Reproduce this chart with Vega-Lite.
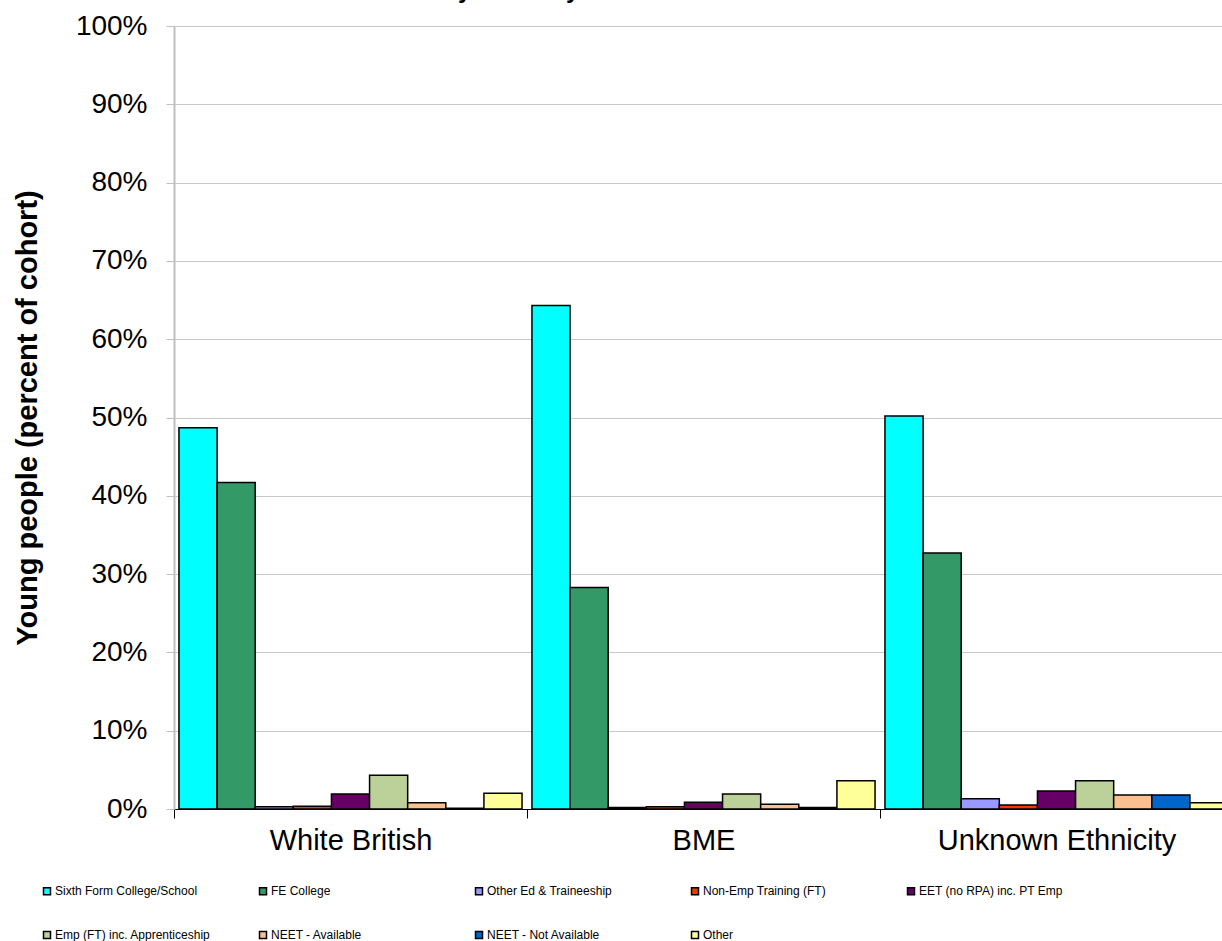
{
  "$schema": "https://vega.github.io/schema/vega-lite/v6.json",
  "width": 1059,
  "height": 783,
  "autosize": {"type": "none"},
  "padding": {"left": 174, "top": 26, "right": 0, "bottom": 132},
  "background": "white",
  "config": {"font": "Liberation Sans", "view": {"stroke": null}},
  "title": {"text": "Destinations of Year 11 leavers by Ethnicity in 2013", "anchor": "start", "fontSize": 24, "font": "Liberation Sans", "fontWeight": "bold", "color": "black", "baseline": "alphabetic", "frame": "group", "offset": 0, "dx": -89, "dy": 10},
  "data": {"values": [
    {"ethnicity": "White British", "destination": "Sixth Form College/School", "percent": 48.7},
    {"ethnicity": "White British", "destination": "FE College", "percent": 41.7},
    {"ethnicity": "White British", "destination": "Other Ed & Traineeship", "percent": 0.3},
    {"ethnicity": "White British", "destination": "Non-Emp Training (FT)", "percent": 0.35},
    {"ethnicity": "White British", "destination": "EET (no RPA) inc. PT Emp", "percent": 1.9},
    {"ethnicity": "White British", "destination": "Emp (FT) inc. Apprenticeship", "percent": 4.3},
    {"ethnicity": "White British", "destination": "NEET - Available", "percent": 0.8},
    {"ethnicity": "White British", "destination": "NEET - Not Available", "percent": 0.1},
    {"ethnicity": "White British", "destination": "Other", "percent": 2.0},
    {"ethnicity": "BME", "destination": "Sixth Form College/School", "percent": 64.3},
    {"ethnicity": "BME", "destination": "FE College", "percent": 28.3},
    {"ethnicity": "BME", "destination": "Other Ed & Traineeship", "percent": 0.2},
    {"ethnicity": "BME", "destination": "Non-Emp Training (FT)", "percent": 0.3},
    {"ethnicity": "BME", "destination": "EET (no RPA) inc. PT Emp", "percent": 0.85},
    {"ethnicity": "BME", "destination": "Emp (FT) inc. Apprenticeship", "percent": 1.9},
    {"ethnicity": "BME", "destination": "NEET - Available", "percent": 0.6},
    {"ethnicity": "BME", "destination": "NEET - Not Available", "percent": 0.2},
    {"ethnicity": "BME", "destination": "Other", "percent": 3.6},
    {"ethnicity": "Unknown Ethnicity", "destination": "Sixth Form College/School", "percent": 50.2},
    {"ethnicity": "Unknown Ethnicity", "destination": "FE College", "percent": 32.7},
    {"ethnicity": "Unknown Ethnicity", "destination": "Other Ed & Traineeship", "percent": 1.3},
    {"ethnicity": "Unknown Ethnicity", "destination": "Non-Emp Training (FT)", "percent": 0.5},
    {"ethnicity": "Unknown Ethnicity", "destination": "EET (no RPA) inc. PT Emp", "percent": 2.3},
    {"ethnicity": "Unknown Ethnicity", "destination": "Emp (FT) inc. Apprenticeship", "percent": 3.6},
    {"ethnicity": "Unknown Ethnicity", "destination": "NEET - Available", "percent": 1.8},
    {"ethnicity": "Unknown Ethnicity", "destination": "NEET - Not Available", "percent": 1.8},
    {"ethnicity": "Unknown Ethnicity", "destination": "Other", "percent": 0.8}
  ]},
  "mark": {"type": "bar", "stroke": "black", "strokeWidth": 1.5},
  "encoding": {
    "x": {
      "field": "ethnicity", "type": "nominal",
      "sort": ["White British", "BME", "Unknown Ethnicity"],
      "scale": {"paddingInner": 0, "paddingOuter": 0},
      "axis": {"title": null, "labelAngle": 0, "labelFontSize": 29, "labelColor": "black", "labelLimit": 500, "tickBand": "extent", "tickSize": 9, "tickColor": "black", "domainColor": "black", "domainWidth": 1, "labelPadding": 8, "grid": false}
    },
    "xOffset": {
      "field": "destination", "type": "nominal",
      "sort": ["Sixth Form College/School", "FE College", "Other Ed & Traineeship", "Non-Emp Training (FT)", "EET (no RPA) inc. PT Emp", "Emp (FT) inc. Apprenticeship", "NEET - Available", "NEET - Not Available", "Other"],
      "scale": {"paddingInner": 0, "paddingOuter": 0.13}
    },
    "y": {
      "field": "percent", "type": "quantitative",
      "scale": {"domain": [0, 100], "nice": false},
      "axis": {"title": "Young people (percent of cohort)", "titleFontSize": 29, "titleFontWeight": "bold", "titleColor": "black", "titlePadding": 33, "values": [0,10,20,30,40,50,60,70,80,90,100], "labelExpr": "datum.value + '%'", "labelFontSize": 28, "labelColor": "black", "labelPadding": 19, "tickSize": 8, "tickColor": "#c0c0c0", "domainColor": "#c0c0c0", "domainWidth": 2, "gridColor": "#c8c8c8", "gridWidth": 1}
    },
    "color": {
      "field": "destination", "type": "nominal",
      "sort": ["Sixth Form College/School", "FE College", "Other Ed & Traineeship", "Non-Emp Training (FT)", "EET (no RPA) inc. PT Emp", "Emp (FT) inc. Apprenticeship", "NEET - Available", "NEET - Not Available", "Other"],
      "scale": {"range": ["#00ffff", "#339966", "#9999ff", "#ff3300", "#660066", "#bbd199", "#fac090", "#0066cc", "#ffff99"]},
      "legend": {"title": null, "orient": "none", "legendX": -133, "legendY": 859, "direction": "horizontal", "columns": 5, "gridAlign": "all", "columnPadding": 45, "rowPadding": 30, "symbolType": "square", "symbolSize": 49, "symbolStrokeColor": "black", "symbolStrokeWidth": 1.5, "labelFontSize": 12, "labelColor": "black", "labelOffset": 2, "labelLimit": 400}
    }
  }
}
